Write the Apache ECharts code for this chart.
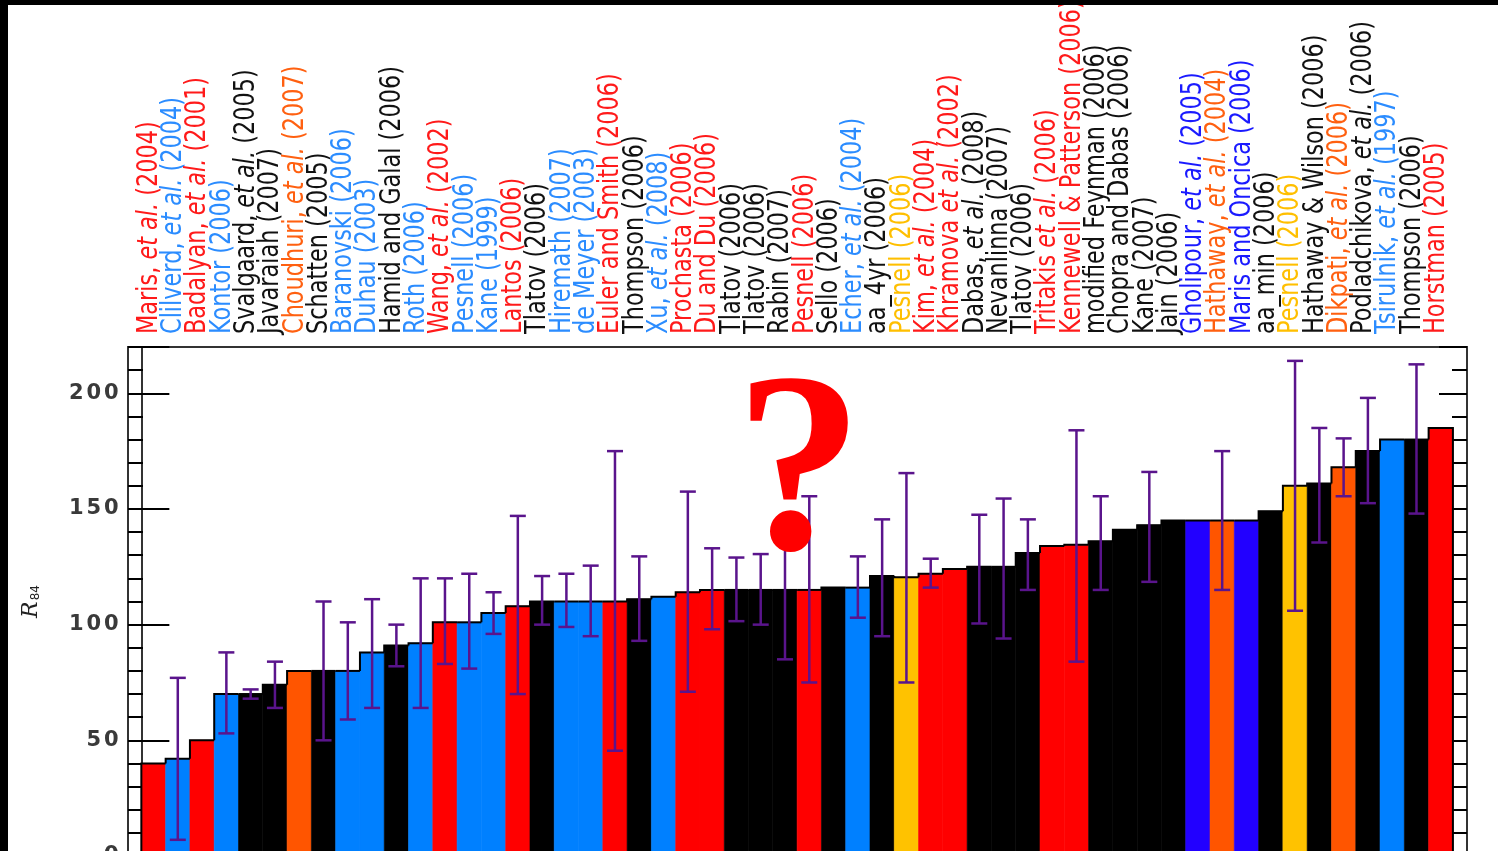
<!DOCTYPE html>
<html><head><meta charset="utf-8">
<script src="https://cdn.jsdelivr.net/npm/echarts@6/dist/echarts.min.js"></script>
<style>html,body{margin:0;padding:0;background:#fff}#c{width:1498px;height:851px}</style>
</head><body><div id="c"></div>
<script>
const names = [
 'Maris, et al. (2004)','Clilverd, et al. (2004)','Badalyan, et al. (2001)','Kontor (2006)',
 'Svalgaard, et al. (2005)','Javaraiah (2007)','Choudhuri, et al. (2007)','Schatten (2005)',
 'Baranovski (2006)','Duhau (2003)','Hamid and Galal (2006)','Roth (2006)','Wang, et al. (2002)',
 'Pesnell (2006)','Kane (1999)','Lantos (2006)','Tlatov (2006)','Hiremath (2007)','de Meyer (2003)',
 'Euler and Smith (2006)','Thompson (2006)','Xu, et al. (2008)','Prochasta (2006)','Du and Du (2006)',
 'Tlatov (2006)','Tlatov (2006)','Rabin (2007)','Pesnell (2006)','Sello (2006)','Echer, et al. (2004)',
 'aa_4yr (2006)','Pesnell (2006)','Kim, et al. (2004)','Khramova et al. (2002)','Dabas, et al. (2008)',
 'Nevanlinna (2007)','Tlatov (2006)','Tritakis et al. (2006)','Kennewell & Patterson (2006)',
 'modified Feynman (2006)','Chopra and Dabas (2006)','Kane (2007)','Jain (2006)',
 'Gholipour, et al. (2005)','Hathaway, et al. (2004)','Maris and Oncica (2006)','aa_min (2006)',
 'Pesnell (2006)','Hathaway & Wilson (2006)','Dikpati, et al. (2006)','Podladchikova, et al. (2006)',
 'Tsirulnik, et al. (1997)','Thompson (2006)','Horstman (2005)'
];
const groups = ['r','lb','r','lb','k','k','o','k','lb','lb','k','lb','r','lb','lb','r','k','lb','lb','r',
 'k','lb','r','r','k','k','k','r','k','lb','k','y','r','r','k','k','k','r','r','k','k','k','k','b','o','b',
 'k','y','k','o','k','lb','k','r'];
const values = [40,42,50,70,70,74,80,80,80,88,91,92,101,101,105,108,110,110,110,110,111,112,114,115,
 115,115,115,115,116,116,121,120.5,122,124,125,125,131,134,134.5,136,141,143,145,145,145,145,149,
 160,161,168,175,180,180,185];
const errHigh = [null,77,null,88,72,84,null,110,101,111,100,120,120,122,114,147,121,122,125.5,175,
 129.5,null,157.5,133,129,130.5,145,155.5,null,129.5,145.5,165.5,128.5,null,147.5,154.5,145.5,null,184,
 155.5,null,166,null,null,175,null,null,214,185,180.5,198,null,212.5,null];
const errLow = [null,7,null,53,68,64,null,50,59,64,82,64,83,81,96,70,100,99,95,45.5,
 93,null,71,98,101.5,100,85,75,null,103,95,75,116,null,100.5,94,115,null,84,
 115,null,118.5,null,null,115,null,null,106,135.5,155.5,152.5,null,148,null];
const yTickLabels = [0,50,100,150,200];

const barColors = {r:'#ff0000', lb:'#0080ff', k:'#000000', o:'#ff5500', y:'#ffc200', b:'#2200ff'};
const textColors = {r:'#ff1a1a', lb:'#2b8cff', k:'#111111', o:'#ff6010', y:'#ffbf00', b:'#1a1aff'};
const errColor = '#5a148c';

const LABEL_FONT = 'DejaVu Sans';
const LABEL_SIZE = 28;
const labelRich = {};
Object.keys(textColors).forEach(g => {
  labelRich[g] = {fill:textColors[g], fontFamily:LABEL_FONT, fontSize:LABEL_SIZE};
  labelRich[g+'i'] = {fill:textColors[g], fontFamily:LABEL_FONT, fontSize:LABEL_SIZE, fontStyle:'italic'};
});
function labelFor(i) {
  const g = groups[i];
  const parts = names[i].split('et al.');
  let s = '';
  parts.forEach((p, j) => {
    if (p) s += '{' + g + '|' + p + '}';
    if (j < parts.length - 1) s += '{' + g + 'i|et al.}';
  });
  return s;
}

const X_MIN = -0.55, X_MAX = 54.58;
const chart = echarts.init(document.getElementById('c'), null, {renderer:'canvas'});

const baseY = {type:'value', min:0, max:220, splitLine:{show:false},
  axisLine:{show:true, lineStyle:{color:'#333', width:2}}};
const majorTick = {show:true, inside:true, length:28, lineStyle:{color:'#000', width:2}};
const minorTickA = {show:true, inside:true, length:15, lineStyle:{color:'#000', width:2}};

chart.setOption({
  animation:false,
  backgroundColor:'#ffffff',
  grid:{left:128, right:31, top:347, bottom:-5, show:true, borderColor:'#333', borderWidth:2,
        containLabel:false, outerBoundsMode:'none'},
  xAxis:[
    {type:'value', min:X_MIN, max:X_MAX, position:'bottom', show:false}
  ],
  yAxis:[
    Object.assign({}, baseY, {position:'left', interval:50, axisTick:majorTick,
      axisLabel:{show:true, margin:8,
        formatter: v => yTickLabels.includes(v) ? String(v).split('').map(d => '{d|' + d + '}').join('') : '',
        rich:{d:{width:17.5, align:'center', fontSize:21, fontWeight:'bold', fontFamily:'DejaVu Sans', color:'#3a3a3a'}}},
      name:'{r|R}{s|84}', nameLocation:'middle', nameRotate:90, nameGap:86,
      nameTextStyle:{rich:{
        r:{fontStyle:'italic', fontSize:22, fontFamily:'DejaVu Serif', color:'#222', verticalAlign:'bottom'},
        s:{fontSize:12, fontFamily:'DejaVu Sans', color:'#222', verticalAlign:'bottom', padding:[0,0,0,1]}}}}),
    Object.assign({}, baseY, {position:'left', interval:10, axisTick:minorTickA, axisLabel:{show:false}}),
    Object.assign({}, baseY, {position:'right', interval:50, axisTick:majorTick, axisLabel:{show:false}}),
    Object.assign({}, baseY, {position:'right', interval:10, axisTick:minorTickA, axisLabel:{show:false}})
  ],
  series:[
    {type:'custom', name:'bars', xAxisIndex:0, yAxisIndex:0, z:2,
     data: values.map((v, i) => [i, v]), encode:{x:0, y:1},
     renderItem:(params, api) => {
       const i = api.value(0), v = api.value(1);
       const a = api.coord([i, v]), b = api.coord([i + 1, 0]);
       const c = barColors[groups[i]];
       return {type:'rect', shape:{x:a[0], y:a[1], width:b[0]-a[0], height:b[1]-a[1]},
               style:{fill:c, stroke:c, lineWidth:0.6}};
     }},
    {type:'custom', name:'outline', xAxisIndex:0, yAxisIndex:0, z:3,
     data: values.map((v, i) => [i, v]), encode:{x:0, y:1},
     renderItem:(params, api) => {
       const i = api.value(0), v = api.value(1);
       const prev = i > 0 ? values[i - 1] : 0;
       const pts = [api.coord([i, prev]), api.coord([i, v]), api.coord([i + 1, v])];
       if (i === values.length - 1) pts.push(api.coord([i + 1, 0]));
       return {type:'polyline', shape:{points:pts}, style:{stroke:'#000', lineWidth:2, fill:null}};
     }},
    {type:'custom', name:'errors', xAxisIndex:0, yAxisIndex:0, z:4,
     data: errHigh.map((h, i) => h == null ? null : [i + 0.5, errLow[i], h]).filter(d => d),
     encode:{x:0, y:[1, 2]},
     renderItem:(params, api) => {
       const x = api.value(0), lo = api.value(1), hi = api.value(2);
       const t = api.coord([x, hi]), b = api.coord([x, lo]);
       const w = 8;
       const st = {stroke:errColor, lineWidth:2.5};
       return {type:'group', children:[
         {type:'line', shape:{x1:t[0], y1:t[1], x2:b[0], y2:b[1]}, style:st},
         {type:'line', shape:{x1:t[0]-w, y1:t[1], x2:t[0]+w, y2:t[1]}, style:st},
         {type:'line', shape:{x1:b[0]-w, y1:b[1], x2:b[0]+w, y2:b[1]}, style:st}
       ]};
     }},
    {type:'custom', name:'labels', xAxisIndex:0, yAxisIndex:0, z:5, silent:true,
     data: names.map((n, i) => [i + 0.5]), encode:{x:0},
     renderItem:(params, api) => {
       const x = api.value(0);
       const i = Math.round(x - 0.5);
       const px = api.coord([x, 0])[0];
       const top = params.coordSys.y;
       return {type:'text', x:px - 4, y:top - 13, rotation:Math.PI / 2, scaleX:0.8, scaleY:1,
         style:{text:labelFor(i), rich:labelRich, fontFamily:LABEL_FONT, fontSize:LABEL_SIZE,
                align:'left', verticalAlign:'middle'}};
     }}
  ],
  graphic:[
    {type:'text', z:100, x:799, y:482,
     style:{text:'?', fontSize:256, fontWeight:'bold', fontFamily:'Liberation Serif', fill:'#ff0000',
            align:'center', verticalAlign:'middle'}},
    {type:'rect', z:101, shape:{x:0, y:0, width:1498, height:5}, style:{fill:'#000'}},
    {type:'rect', z:101, shape:{x:0, y:0, width:8, height:851}, style:{fill:'#000'}}
  ]
});
</script>
</body></html>
